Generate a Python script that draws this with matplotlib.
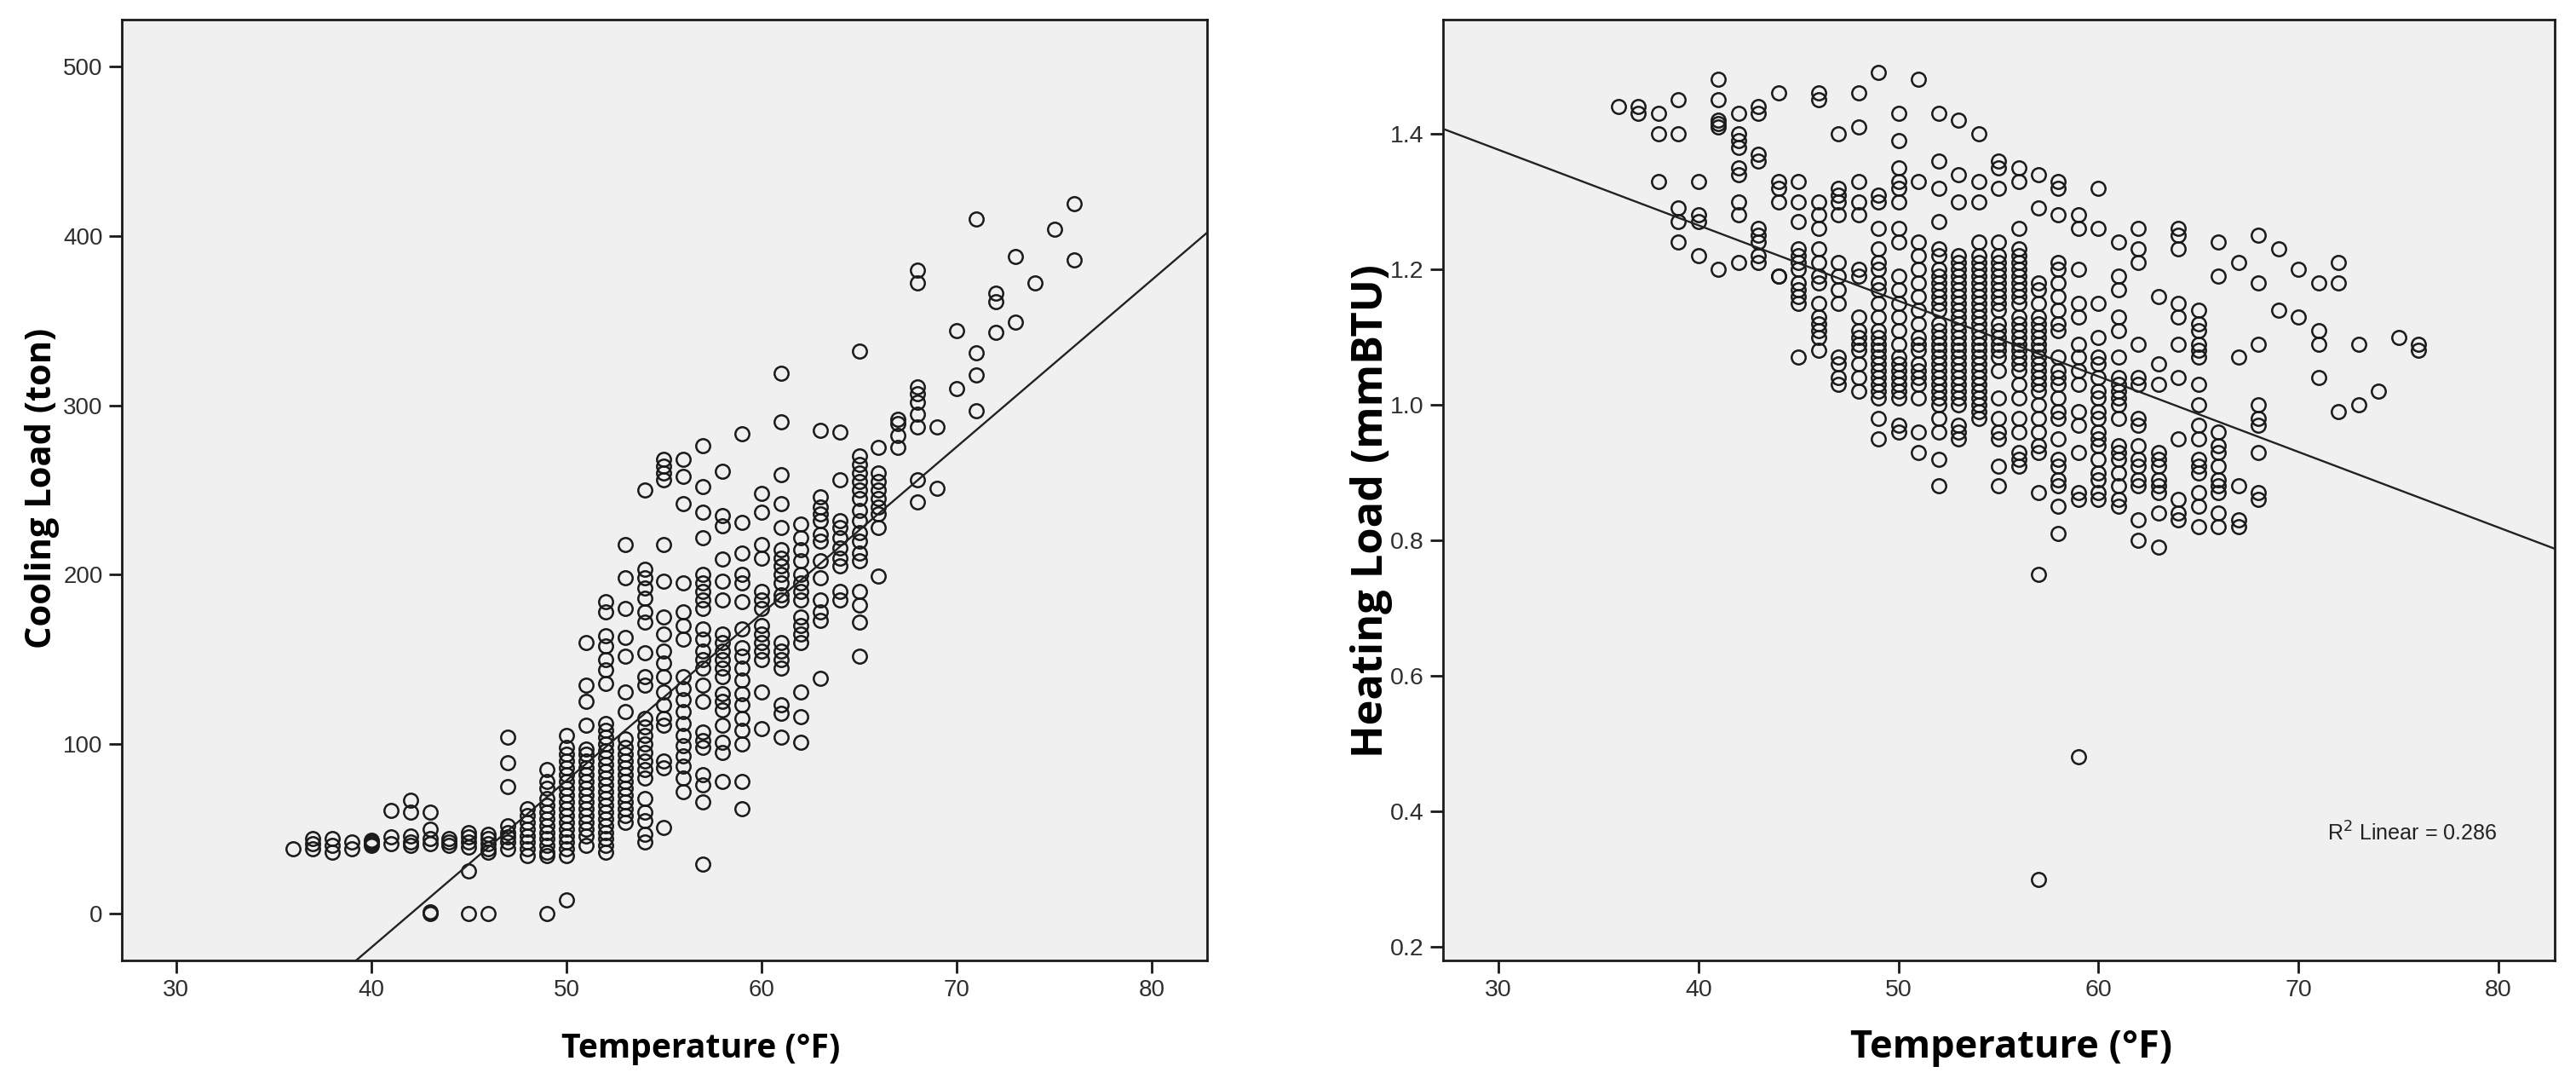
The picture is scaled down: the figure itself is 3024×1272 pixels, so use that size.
import matplotlib
matplotlib.use("Agg")
import matplotlib.pyplot as plt
import numpy as np
from matplotlib import font_manager

# ---------------- data ----------------
cool_temps = [36, 37, 38, 39, 40, 41, 42, 43, 44, 45, 46, 47, 48, 49, 50, 51, 52, 53, 54, 55,
              56, 57, 58, 59, 60, 61, 62, 63, 64, 65, 66, 67, 68, 69, 70, 71, 72, 73, 74, 75, 76]
cool_values = [
    [38],
    [44, 41, 38],
    [44, 40, 36],
    [42, 38],
    [43, 41, 40, 42],
    [61, 45, 41],
    [67, 60, 46, 42, 40],
    [60, 50, 44, 41, 0, 1],
    [44, 42, 40],
    [48, 45, 42, 39, 25, 0],
    [47, 44, 41, 38, 36, 0],
    [104, 89, 75, 52, 48, 45, 42, 38],
    [62, 58, 54, 50, 46, 42, 38, 34],
    [85, 78, 74, 68, 64, 60, 56, 52, 48, 44, 40, 36, 34, 0],
    [105, 98, 94, 90, 86, 82, 78, 74, 70, 66, 62, 58, 54, 50, 46, 42, 38, 34, 8],
    [160, 135, 125, 111, 97, 94, 90, 86, 82, 78, 74, 70, 66, 62, 58, 54, 50, 46, 40],
    [184, 178, 164, 158, 150, 144, 136, 112, 108, 104, 100, 96, 92, 88, 84, 80, 76, 72, 68,
     64, 60, 56, 52, 48, 44, 40, 36],
    [218, 198, 180, 163, 152, 131, 119, 103, 98, 94, 90, 86, 82, 78, 74, 70, 66, 62, 58, 54],
    [250, 203, 198, 192, 186, 178, 172, 154, 140, 135, 115, 110, 105, 100, 95, 90, 85, 80,
     68, 60, 55, 47, 42],
    [268, 264, 260, 256, 218, 196, 175, 165, 155, 148, 140, 131, 123, 115, 111, 90, 86, 51],
    [268, 258, 242, 195, 178, 170, 162, 140, 133, 126, 119, 112, 105, 99, 93, 87, 80, 72],
    [276, 252, 237, 222, 200, 195, 190, 185, 180, 168, 162, 155, 150, 145, 135, 125, 107,
     102, 98, 82, 76, 66, 29],
    [261, 235, 229, 209, 196, 185, 165, 160, 155, 150, 145, 140, 130, 125, 120, 111, 101, 95, 78],
    [283, 231, 213, 200, 195, 184, 168, 157, 152, 145, 138, 130, 123, 115, 108, 100, 78, 62],
    [248, 237, 218, 210, 190, 185, 180, 170, 165, 160, 155, 150, 131, 109],
    [319, 290, 259, 242, 228, 215, 210, 205, 200, 195, 188, 185, 160, 155, 150, 145, 123, 118, 104],
    [230, 222, 215, 208, 200, 195, 190, 185, 175, 170, 165, 160, 131, 116, 101],
    [285, 246, 240, 236, 232, 224, 220, 208, 198, 185, 178, 173, 139],
    [284, 256, 232, 228, 222, 216, 210, 205, 190, 185],
    [332, 270, 265, 260, 255, 250, 245, 238, 232, 225, 220, 213, 208, 190, 182, 172, 152],
    [275, 260, 255, 250, 245, 240, 236, 228, 199],
    [292, 289, 282, 275],
    [380, 372, 311, 307, 302, 295, 287, 256, 243],
    [287, 251],
    [344, 310],
    [410, 331, 318, 297],
    [366, 361, 343],
    [388, 349],
    [372],
    [404],
    [419, 386],
]

heat_temps = [36, 37, 38, 39, 40, 41, 42, 43, 44, 45, 46, 47, 48, 49, 50, 51, 52, 53, 54, 55,
              56, 57, 58, 59, 60, 61, 62, 63, 64, 65, 66, 67, 68, 69, 70, 71, 72, 73, 74, 75, 76]
heat_values = [
    [1.44],
    [1.44, 1.43],
    [1.43, 1.40, 1.33],
    [1.45, 1.40, 1.29, 1.27, 1.24],
    [1.33, 1.28, 1.27, 1.22],
    [1.48, 1.45, 1.42, 1.415, 1.41, 1.20],
    [1.43, 1.40, 1.39, 1.38, 1.35, 1.34, 1.30, 1.28, 1.21],
    [1.44, 1.43, 1.37, 1.36, 1.26, 1.25, 1.24, 1.22, 1.21],
    [1.46, 1.33, 1.32, 1.30, 1.19, 1.19],
    [1.33, 1.30, 1.27, 1.23, 1.22, 1.21, 1.20, 1.18, 1.17, 1.16, 1.15, 1.07],
    [1.46, 1.45, 1.30, 1.28, 1.26, 1.23, 1.21, 1.19, 1.18, 1.15, 1.13, 1.12, 1.11, 1.10, 1.08],
    [1.40, 1.32, 1.31, 1.30, 1.28, 1.21, 1.19, 1.17, 1.15, 1.07, 1.06, 1.04, 1.03],
    [1.46, 1.41, 1.33, 1.30, 1.28, 1.20, 1.19, 1.13, 1.11, 1.10, 1.09, 1.08, 1.06, 1.04, 1.02],
    [1.49, 1.31, 1.30, 1.26, 1.23, 1.21, 1.20, 1.18, 1.17, 1.15, 1.13, 1.11, 1.10, 1.09, 1.08,
     1.07, 1.06, 1.05, 1.04, 1.03, 1.02, 1.01, 0.98, 0.95],
    [1.43, 1.39, 1.35, 1.33, 1.32, 1.30, 1.26, 1.24, 1.19, 1.17, 1.15, 1.13, 1.11, 1.09, 1.07,
     1.06, 1.05, 1.04, 1.03, 1.02, 1.01, 0.97, 0.96],
    [1.48, 1.33, 1.24, 1.22, 1.20, 1.18, 1.16, 1.14, 1.12, 1.10, 1.09, 1.08, 1.06, 1.05, 1.04,
     1.03, 1.01, 0.96, 0.93],
    [1.43, 1.36, 1.32, 1.27, 1.23, 1.22, 1.20, 1.19, 1.18, 1.17, 1.16, 1.15, 1.14, 1.12, 1.11,
     1.10, 1.09, 1.08, 1.07, 1.06, 1.05, 1.04, 1.03, 1.02, 1.01, 1.00, 0.98, 0.96, 0.92, 0.88],
    [1.42, 1.34, 1.30, 1.22, 1.21, 1.20, 1.19, 1.18, 1.17, 1.16, 1.15, 1.14, 1.13, 1.12, 1.11,
     1.10, 1.09, 1.08, 1.07, 1.06, 1.05, 1.04, 1.03, 1.02, 1.01, 1.00, 0.97, 0.96, 0.95],
    [1.40, 1.33, 1.30, 1.24, 1.22, 1.21, 1.20, 1.19, 1.18, 1.17, 1.16, 1.15, 1.14, 1.13, 1.12,
     1.11, 1.10, 1.09, 1.08, 1.07, 1.06, 1.05, 1.04, 1.03, 1.02, 1.01, 1.00, 0.99, 0.98],
    [1.36, 1.35, 1.32, 1.24, 1.22, 1.21, 1.20, 1.19, 1.18, 1.17, 1.16, 1.15, 1.14, 1.12, 1.11,
     1.10, 1.09, 1.08, 1.07, 1.05, 1.01, 0.98, 0.96, 0.95, 0.91, 0.88],
    [1.35, 1.33, 1.26, 1.23, 1.22, 1.21, 1.20, 1.19, 1.18, 1.17, 1.16, 1.15, 1.13, 1.12, 1.11,
     1.10, 1.09, 1.08, 1.07, 1.06, 1.05, 1.03, 1.01, 0.98, 0.96, 0.93, 0.92, 0.91],
    [1.34, 1.29, 1.18, 1.17, 1.15, 1.13, 1.12, 1.11, 1.10, 1.09, 1.08, 1.07, 1.06, 1.05, 1.04,
     1.03, 1.02, 1.00, 0.98, 0.96, 0.94, 0.93, 0.87, 0.75, 0.30],
    [1.33, 1.32, 1.28, 1.21, 1.20, 1.18, 1.16, 1.14, 1.12, 1.11, 1.07, 1.05, 1.04, 1.03, 1.01,
     0.99, 0.98, 0.95, 0.92, 0.91, 0.89, 0.88, 0.85, 0.81],
    [1.28, 1.26, 1.20, 1.15, 1.13, 1.09, 1.07, 1.05, 1.03, 0.99, 0.97, 0.93, 0.87, 0.86, 0.48],
    [1.32, 1.26, 1.15, 1.10, 1.07, 1.06, 1.04, 1.02, 1.01, 0.99, 0.98, 0.96, 0.95, 0.94, 0.92,
     0.90, 0.89, 0.87, 0.86],
    [1.24, 1.19, 1.17, 1.13, 1.11, 1.07, 1.04, 1.03, 1.02, 1.01, 1.00, 0.98, 0.94, 0.93, 0.92,
     0.90, 0.88, 0.86, 0.85],
    [1.26, 1.23, 1.21, 1.09, 1.04, 1.03, 0.98, 0.97, 0.94, 0.92, 0.91, 0.89, 0.88, 0.83, 0.80],
    [1.16, 1.06, 1.03, 0.93, 0.92, 0.91, 0.89, 0.88, 0.87, 0.84, 0.79],
    [1.26, 1.25, 1.23, 1.15, 1.13, 1.09, 1.04, 0.95, 0.86, 0.84, 0.83],
    [1.14, 1.12, 1.11, 1.09, 1.08, 1.07, 1.03, 1.00, 0.97, 0.95, 0.92, 0.91, 0.90, 0.87, 0.85, 0.82],
    [1.24, 1.19, 0.96, 0.94, 0.93, 0.91, 0.89, 0.88, 0.87, 0.84, 0.82],
    [1.21, 1.07, 0.88, 0.83, 0.82],
    [1.25, 1.18, 1.09, 1.00, 0.98, 0.97, 0.93, 0.87, 0.86],
    [1.23, 1.14],
    [1.20, 1.13],
    [1.18, 1.11, 1.09, 1.04],
    [1.21, 1.18, 0.99],
    [1.09, 1.00],
    [1.02],
    [1.10],
    [1.09, 1.08],
]

# fitted lines
cool_fit = (9.853, -414.2)      # slope, intercept
heat_fit = (-0.01115, 1.711)    # slope, intercept
heat_r2_text = "R$^2$ Linear = 0.286"

x_ticks = [30, 40, 50, 60, 70, 80]
cool_yticks = [0, 100, 200, 300, 400, 500]
heat_yticks = [0.2, 0.4, 0.6, 0.8, 1.0, 1.2, 1.4]
heat_yticklabels = ["0.2", "0.4", "0.6", "0.8", "1.0", "1.2", "1.4"]

# ---------------- helpers ----------------
def flatten(temps, values):
    xs, ys = [], []
    for t, vals in zip(temps, values):
        for v in vals:
            xs.append(t)
            ys.append(v)
    return np.array(xs, float), np.array(ys, float)

avail = {f.name for f in font_manager.fontManager.ttflist}
tick_font = "Liberation Sans" if "Liberation Sans" in avail else "DejaVu Sans"
label_font = "Open Sans" if "Open Sans" in avail else "DejaVu Sans"

W, H = 3024, 1272
fig = plt.figure(figsize=(W / 100, H / 100), dpi=100)
fig.patch.set_facecolor("white")

def style(ax, xlim, ylim):
    ax.set_facecolor("#f0f0f0")
    ax.set_xlim(*xlim)
    ax.set_ylim(*ylim)
    for s in ax.spines.values():
        s.set_linewidth(2.0)
        s.set_color("#1a1a1a")
    ax.tick_params(axis="both", direction="out", length=11, width=2.0, color="#1a1a1a",
                   labelcolor="#2e2e2e", pad=5)
    ax.set_xticks(x_ticks)

mk = dict(linestyle="none", marker="o", markersize=11.8, markerfacecolor="none",
          markeredgecolor="#1a1a1a", markeredgewidth=1.8, zorder=3)

# ---- left: cooling ----
axL = fig.add_axes([143 / W, 1 - 1127 / H, (1417 - 143) / W, (1127 - 23) / H])
cx, cy = flatten(cool_temps, cool_values)
axL.plot(cx, cy, **mk)
xl = np.array([27.0, 83.0])
axL.plot(xl, cool_fit[0] * xl + cool_fit[1], color="#222222", lw=1.7, zorder=4)
style(axL, (27.22, 82.83), (-27.7, 527.7))
axL.set_yticks(cool_yticks)
axL.set_xticklabels([str(t) for t in x_ticks], fontsize=20, fontfamily=tick_font)
axL.set_yticklabels([str(t) for t in cool_yticks], fontsize=20, fontfamily=tick_font)

# ---- right: heating ----
axR = fig.add_axes([1694 / W, 1 - 1127 / H, (2999 - 1694) / W, (1127 - 23) / H])
hx, hy = flatten(heat_temps, heat_values)
axR.plot(hx, hy, **mk)
axR.plot(xl, heat_fit[0] * xl + heat_fit[1], color="#222222", lw=1.7, zorder=4)
style(axR, (27.23, 82.81), (0.18, 1.5686))
axR.set_yticks(heat_yticks)
axR.set_xticklabels([str(t) for t in x_ticks], fontsize=20.5, fontfamily=tick_font)
axR.set_yticklabels(heat_yticklabels, fontsize=20.5, fontfamily=tick_font)

renderer = fig.canvas.get_renderer()

r2 = axR.text(71.45, 0.368, heat_r2_text, fontsize=20, fontfamily=tick_font, color="#222222",
              ha="left", va="center")
bb = r2.get_window_extent(renderer)
r2.set_fontsize(20 * 199 / bb.width)

# ---- axis titles, sized to the reference extents (pixels) ----
def fitted_text(x, y, s, target_px, rotation=0):
    t = fig.text(x / W, 1 - y / H, s, fontsize=30, fontweight="bold", fontfamily=label_font,
                 ha="center", va="center", rotation=rotation, color="black")
    bb = t.get_window_extent(renderer)
    cur = bb.width if rotation == 0 else bb.height
    t.set_fontsize(30 * target_px / cur)
    return t

fitted_text(823, 1230, "Temperature (°F)", 328)
fitted_text(50, 573, "Cooling Load (ton)", 376, rotation=90)
fitted_text(2361, 1229, "Temperature (°F)", 378)
fitted_text(1610, 600, "Heating Load (mmBTU)", 579, rotation=90)

fig.savefig("out.png", dpi=100, facecolor="white")
